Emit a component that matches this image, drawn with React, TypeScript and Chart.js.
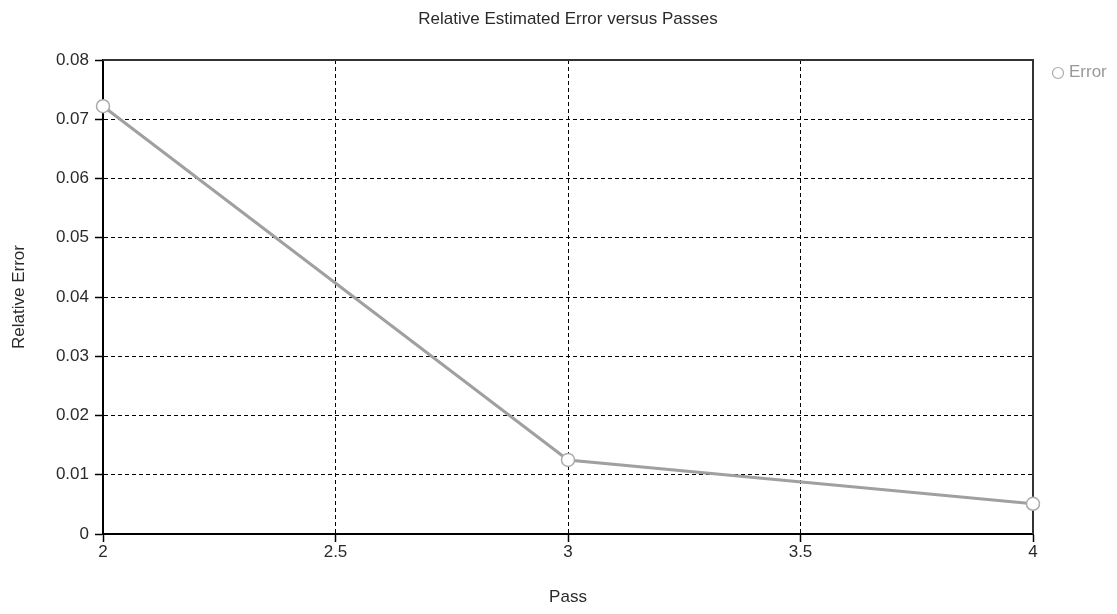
import React, { useEffect, useRef } from "react";
import { Chart, registerables } from "chart.js";

Chart.register(...registerables);

const passes: number[] = [2, 3, 4];
const relativeError: number[] = [0.0722, 0.0125, 0.0051];
const seriesLabel = "Error";
const chartTitle = "Relative Estimated Error versus Passes";
const xAxisTitle = "Pass";
const yAxisTitle = "Relative Error";

const FONT = "'Liberation Sans', Arial, sans-serif";
const FONT_SIZE = 17;
const TEXT_COLOR = "#2a2a2a";

// Solid frame on the top/right edges plus the title and the side legend
const framePlugin = {
  id: "frameAndLegend",
  beforeDatasetsDraw(chart: any) {
    const { ctx, chartArea } = chart;
    ctx.save();
    ctx.strokeStyle = "#333";
    ctx.lineWidth = 2;
    ctx.beginPath();
    ctx.moveTo(chartArea.left, chartArea.top);
    ctx.lineTo(chartArea.right, chartArea.top);
    ctx.lineTo(chartArea.right, chartArea.bottom);
    ctx.stroke();
    ctx.restore();
  },
  afterDraw(chart: any) {
    const { ctx, chartArea } = chart;
    ctx.save();
    ctx.font = `${FONT_SIZE}px ${FONT}`;
    ctx.fillStyle = TEXT_COLOR;
    ctx.textAlign = "center";
    ctx.textBaseline = "middle";
    ctx.fillText(chartTitle, (chartArea.left + chartArea.right) / 2, 19);

    // legend entry
    const lx = chartArea.right + 25;
    const ly = 73;
    ctx.beginPath();
    ctx.arc(lx, ly, 5.5, 0, Math.PI * 2);
    ctx.fillStyle = "#fff";
    ctx.fill();
    ctx.lineWidth = 1.2;
    ctx.strokeStyle = "#aaa";
    ctx.stroke();
    ctx.fillStyle = "#999";
    ctx.textAlign = "left";
    ctx.fillText(seriesLabel, lx + 11, ly - 1);
    ctx.restore();
  },
};

export default function App() {
  const canvasRef = useRef<HTMLCanvasElement | null>(null);

  useEffect(() => {
    if (!canvasRef.current) return;
    const chart = new Chart(canvasRef.current, {
      type: "line",
      data: {
        datasets: [
          {
            label: seriesLabel,
            data: passes.map((p, i) => ({ x: p, y: relativeError[i] })),
            borderColor: "#a0a0a0",
            borderWidth: 3,
            pointRadius: 6.5,
            pointBackgroundColor: "#fff",
            pointBorderColor: "#aaa",
            pointBorderWidth: 1.5,
            tension: 0,
            clip: false as any,
          },
        ],
      },
      options: {
        responsive: false,
        animation: false,
        layout: { padding: { top: 60, right: 84, left: 0, bottom: 0 } },
        plugins: {
          legend: { display: false },
          title: { display: false },
          tooltip: { enabled: false },
        },
        scales: {
          x: {
            type: "linear",
            min: 2,
            max: 4,
            afterFit(scale: any) {
              scale.height = 80;
            },
            ticks: {
              stepSize: 0.5,
              padding: 0,
              color: TEXT_COLOR,
              font: { family: FONT, size: FONT_SIZE },
              callback: (v: any) => String(Math.round(Number(v) * 10) / 10),
            },
            grid: {
              color: (c: any) =>
                c.tick && (c.tick.value === 4 || c.tick.value === 2) ? "rgba(0,0,0,0)" : "#000",
              lineWidth: 1,
              tickLength: 8,
              tickColor: "#000",
              tickWidth: 1.5,
            },
            border: { display: true, color: "#000", width: 2, dash: [4, 3] },
            title: {
              display: true,
              text: xAxisTitle,
              color: TEXT_COLOR,
              font: { family: FONT, size: FONT_SIZE },
              padding: { top: 0, bottom: 6 },
            },
          },
          y: {
            type: "linear",
            min: 0,
            max: 0.08,
            afterFit(scale: any) {
              scale.width = 103;
            },
            ticks: {
              stepSize: 0.01,
              padding: 6,
              color: TEXT_COLOR,
              font: { family: FONT, size: FONT_SIZE },
              callback: (v: any) => String(Math.round(Number(v) * 100) / 100),
            },
            grid: {
              color: (c: any) =>
                c.tick && (Math.abs(c.tick.value - 0.08) < 1e-9 || c.tick.value === 0)
                  ? "rgba(0,0,0,0)"
                  : "#000",
              lineWidth: 1,
              tickLength: 8,
              tickColor: "#000",
              tickWidth: 1.5,
            },
            border: { display: true, color: "#000", width: 2, dash: [4, 3] },
            title: {
              display: true,
              text: yAxisTitle,
              color: TEXT_COLOR,
              font: { family: FONT, size: FONT_SIZE },
              padding: { top: 9, bottom: 0 },
            },
          },
        },
      },
      plugins: [framePlugin],
    });
    return () => chart.destroy();
  }, []);

  return (
    <div style={{ position: "absolute", left: 0, top: 0, width: 1117, height: 614, background: "#fff" }}>
      <canvas ref={canvasRef} width={1117} height={614} style={{ display: "block" }} />
    </div>
  );
}
